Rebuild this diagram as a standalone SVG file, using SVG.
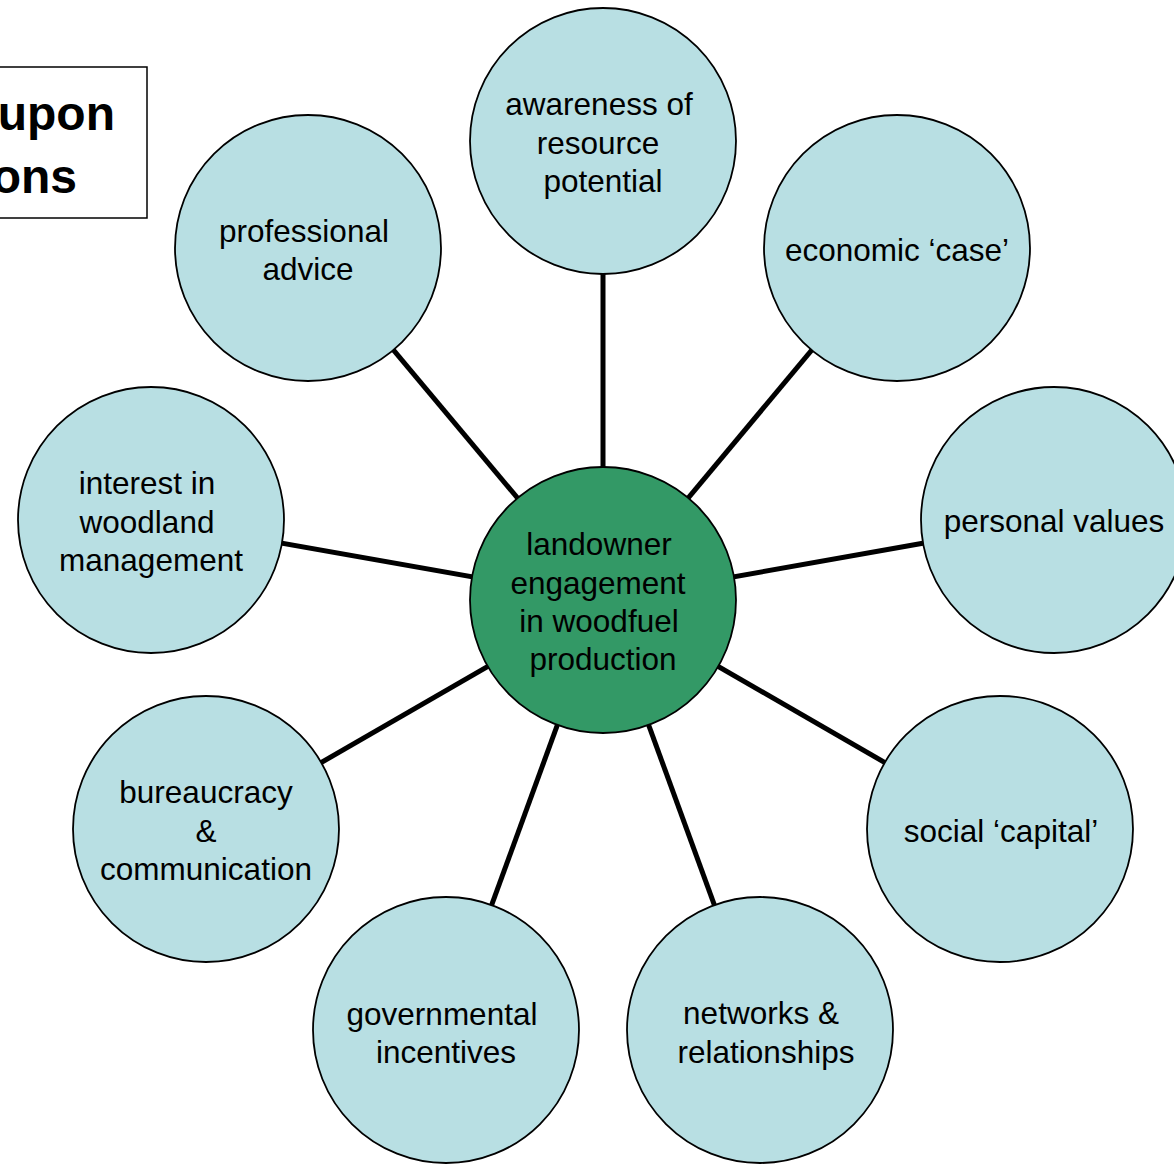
<svg xmlns="http://www.w3.org/2000/svg" width="1174" height="1164" viewBox="0 0 1174 1164">
<style>
.c{fill:#b8dfe3;stroke:#000;stroke-width:1.8}
.m{fill:#339966;stroke:#000;stroke-width:1.8}
.t{font-family:"Liberation Sans",Arial,sans-serif;font-size:31.5px;fill:#000;text-anchor:middle}
.h{font-family:"Liberation Sans",Arial,sans-serif;font-size:48px;font-weight:bold;fill:#000;text-anchor:end}
.l{stroke:#000;stroke-width:5}
</style>
<rect width="1174" height="1164" fill="#fff"/>
<g id="title">
<rect x="-5" y="67" width="152" height="151" fill="#fff" stroke="#000" stroke-width="1.5"/>
<text class="h" x="115" y="130">upon</text>
<text class="h" x="77" y="193">ons</text>
</g>
<g id="connectors">
<line class="l" x1="603" y1="600" x2="603" y2="141"/>
<line class="l" x1="603" y1="600" x2="897" y2="248"/>
<line class="l" x1="603" y1="600" x2="1054" y2="520"/>
<line class="l" x1="603" y1="600" x2="1000" y2="829"/>
<line class="l" x1="603" y1="600" x2="760" y2="1030"/>
<line class="l" x1="603" y1="600" x2="446" y2="1030"/>
<line class="l" x1="603" y1="600" x2="206" y2="829"/>
<line class="l" x1="603" y1="600" x2="151" y2="520"/>
<line class="l" x1="603" y1="600" x2="308" y2="248"/>
</g>
<g id="awareness">
<circle class="c" cx="603" cy="141" r="133"/>
<text class="t" x="599" y="115">awareness of</text>
<text class="t" x="598" y="154">resource</text>
<text class="t" x="603" y="192">potential</text>
</g>
<g id="economic">
<circle class="c" cx="897" cy="248" r="133"/>
<text class="t" x="897" y="261">economic ‘case’</text>
</g>
<g id="personal">
<circle class="c" cx="1054" cy="520" r="133"/>
<text class="t" x="1054" y="532">personal values</text>
</g>
<g id="social">
<circle class="c" cx="1000" cy="829" r="133"/>
<text class="t" x="1001" y="842">social ‘capital’</text>
</g>
<g id="networks">
<circle class="c" cx="760" cy="1030" r="133"/>
<text class="t" x="761" y="1024">networks &amp;</text>
<text class="t" x="766" y="1063">relationships</text>
</g>
<g id="governmental">
<circle class="c" cx="446" cy="1030" r="133"/>
<text class="t" x="442" y="1025">governmental</text>
<text class="t" x="446" y="1063">incentives</text>
</g>
<g id="bureaucracy">
<circle class="c" cx="206" cy="829" r="133"/>
<text class="t" x="206" y="803">bureaucracy</text>
<text class="t" x="206" y="842">&amp;</text>
<text class="t" x="206" y="880">communication</text>
</g>
<g id="interest">
<circle class="c" cx="151" cy="520" r="133"/>
<text class="t" x="147" y="494">interest in</text>
<text class="t" x="147" y="533">woodland</text>
<text class="t" x="151" y="571">management</text>
</g>
<g id="professional">
<circle class="c" cx="308" cy="248" r="133"/>
<text class="t" x="304" y="242">professional</text>
<text class="t" x="308" y="280">advice</text>
</g>
<g id="center">
<circle class="m" cx="603" cy="600" r="133"/>
<text class="t" x="599" y="555">landowner</text>
<text class="t" x="598" y="594">engagement</text>
<text class="t" x="599" y="632">in woodfuel</text>
<text class="t" x="603" y="670">production</text>
</g>
</svg>
